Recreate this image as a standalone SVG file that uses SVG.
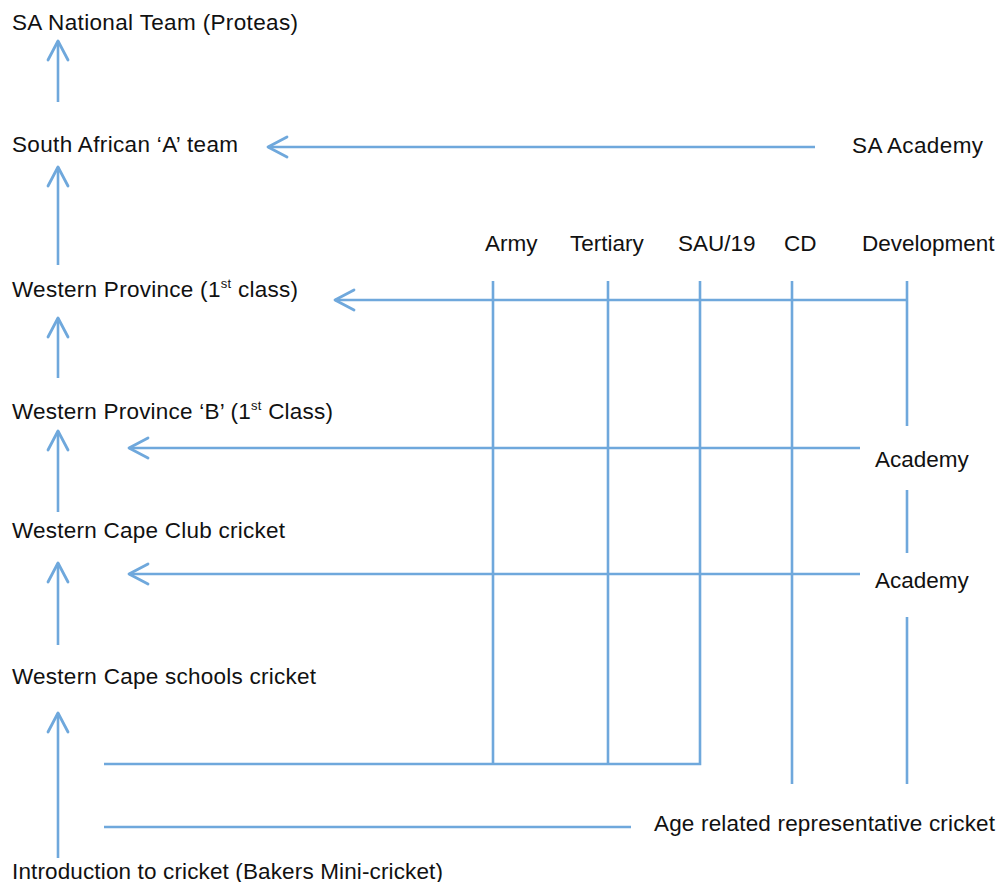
<svg xmlns="http://www.w3.org/2000/svg" width="1003" height="882" viewBox="0 0 1003 882">
<defs>
<style>
.t{font-family:"Liberation Sans",Arial,sans-serif;font-size:22.5px;fill:#111111}
.sup{font-size:13px}
.c{stroke:#6FA8DC;stroke-width:2.6;fill:none}
</style>
<marker id="ah" markerUnits="userSpaceOnUse" viewBox="-22 -12 24 24" markerWidth="24" markerHeight="24" refX="0" refY="0" orient="auto">
<path d="M-19,-10 L0,0 L-19,10" fill="none" stroke="#6FA8DC" stroke-width="2.8" stroke-linecap="round" stroke-linejoin="round"/>
</marker>
</defs>
<rect width="1003" height="882" fill="#ffffff"/>
<g id="connectors">
<line class="c" x1="58" y1="102" x2="58" y2="41" marker-end="url(#ah)"/>
<line class="c" x1="58" y1="265" x2="58" y2="167" marker-end="url(#ah)"/>
<line class="c" x1="58" y1="378" x2="58" y2="318" marker-end="url(#ah)"/>
<line class="c" x1="58" y1="512" x2="58" y2="431" marker-end="url(#ah)"/>
<line class="c" x1="58" y1="645" x2="58" y2="563" marker-end="url(#ah)"/>
<line class="c" x1="58" y1="858" x2="58" y2="713" marker-end="url(#ah)"/>
<line class="c" x1="815" y1="147" x2="268" y2="147" marker-end="url(#ah)"/>
<line class="c" x1="907" y1="300" x2="335" y2="300" marker-end="url(#ah)"/>
<line class="c" x1="860" y1="448" x2="129" y2="448" marker-end="url(#ah)"/>
<line class="c" x1="860" y1="574" x2="129" y2="574" marker-end="url(#ah)"/>
<line class="c" x1="493" y1="281" x2="493" y2="764"/>
<line class="c" x1="608" y1="281" x2="608" y2="764"/>
<line class="c" x1="792" y1="281" x2="792" y2="784"/>
<line class="c" x1="907" y1="281" x2="907" y2="426"/>
<line class="c" x1="907" y1="490" x2="907" y2="553"/>
<line class="c" x1="907" y1="617" x2="907" y2="784"/>
<polyline class="c" points="104,764 700,764 700,281"/>
<line class="c" x1="104" y1="827" x2="631" y2="827"/>
</g>
<g id="n-proteas"><text class="t" x="12" y="30" textLength="286">SA National Team (Proteas)</text></g>
<g id="n-sa-a"><text class="t" x="12" y="152" textLength="226">South African ‘A’ team</text></g>
<g id="n-sa-academy"><text class="t" x="852" y="153" textLength="131">SA Academy</text></g>
<g id="n-wp"><text class="t" x="12" y="297" textLength="286">Western Province (1<tspan class="sup" dy="-9">st</tspan><tspan dy="9"> class)</tspan></text></g>
<g id="n-wpb"><text class="t" x="12" y="419" textLength="321">Western Province ‘B’ (1<tspan class="sup" dy="-9">st</tspan><tspan dy="9"> Class)</tspan></text></g>
<g id="n-club"><text class="t" x="12" y="538" textLength="273">Western Cape Club cricket</text></g>
<g id="n-schools"><text class="t" x="12" y="684" textLength="304">Western Cape schools cricket</text></g>
<g id="n-intro"><text class="t" x="12" y="879" textLength="431">Introduction to cricket (Bakers Mini-cricket)</text></g>
<g id="n-army"><text class="t" x="485" y="251">Army</text></g>
<g id="n-tertiary"><text class="t" x="570" y="251">Tertiary</text></g>
<g id="n-sau19"><text class="t" x="678" y="251">SAU/19</text></g>
<g id="n-cd"><text class="t" x="784" y="251">CD</text></g>
<g id="n-development"><text class="t" x="862" y="251">Development</text></g>
<g id="n-academy1"><text class="t" x="875" y="467">Academy</text></g>
<g id="n-academy2"><text class="t" x="875" y="588">Academy</text></g>
<g id="n-age"><text class="t" x="654" y="831" textLength="341">Age related representative cricket</text></g>
</svg>
